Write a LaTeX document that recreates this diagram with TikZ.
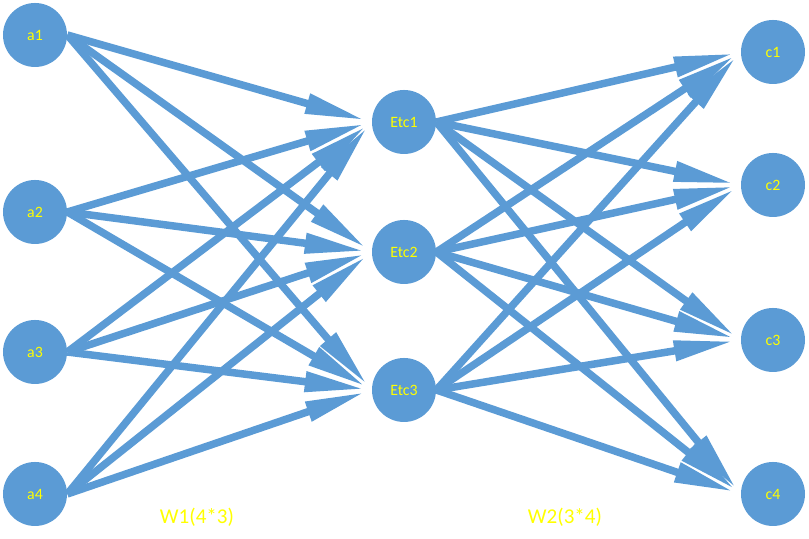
\documentclass[tikz,border=0pt]{standalone}
\usepackage{fontspec}
\setmainfont{Carlito}
\usepackage{tikz}
\usetikzlibrary{arrows.meta,positioning}
\usepackage{xcolor}
\definecolor{unitblue}{HTML}{5B9BD5}
\definecolor{labelyellow}{HTML}{FFFF00}

\begin{document}
\begin{tikzpicture}[
    unit/.style={circle, fill=unitblue, minimum size=1.28cm, inner sep=0pt, font=\fontsize{9}{10}\selectfont, text=labelyellow},
    weight/.style={font=\fontsize{12}{14}\selectfont, text=labelyellow},
    >={Triangle[length=1.2cm,width=0.38cm]},
    every edge/.style={draw=unitblue, ->, line width=0.15cm, shorten >=0.14cm}
]
    \useasboundingbox (0,0) rectangle (16.18,10.78);

    % input layer
    \node[unit] (a1) at (0.70,10.08) {a1};
    \node[unit] (a2) at (0.70,6.54) {a2};
    \node[unit] (a3) at (0.70,3.74) {a3};
    \node[unit] (a4) at (0.70,0.90) {a4};

    % hidden layer
    \node[unit] (etc1) at (8.08,8.34) {Etc1};
    \node[unit] (etc2) at (8.08,5.74) {Etc2};
    \node[unit] (etc3) at (8.08,2.98) {Etc3};

    % output layer
    \node[unit] (c1) at (15.46,9.74) {c1};
    \node[unit] (c2) at (15.46,7.08) {c2};
    \node[unit] (c3) at (15.46,3.98) {c3};
    \node[unit] (c4) at (15.46,0.90) {c4};

    \node[weight] (w1) at (3.94,0.44) {W1(4*3)};
    \node[weight] (w2) at (11.30,0.44) {W2(3*4)};

    % W1
    \draw (a1.east) edge (etc1.west);
    \draw (a1.east) edge (etc2.west);
    \draw (a1.east) edge (etc3.west);
    \draw (a2.east) edge (etc1.west);
    \draw (a2.east) edge (etc2.west);
    \draw (a2.east) edge (etc3.west);
    \draw (a3.east) edge (etc1.west);
    \draw (a3.east) edge (etc2.west);
    \draw (a3.east) edge (etc3.west);
    \draw (a4.east) edge (etc1.west);
    \draw (a4.east) edge (etc2.west);
    \draw (a4.east) edge (etc3.west);

    % W2
    \draw (etc1.east) edge (c1.west);
    \draw (etc1.east) edge (c2.west);
    \draw (etc1.east) edge (c3.west);
    \draw (etc1.east) edge (c4.west);
    \draw (etc2.east) edge (c1.west);
    \draw (etc2.east) edge (c2.west);
    \draw (etc2.east) edge (c3.west);
    \draw (etc2.east) edge (c4.west);
    \draw (etc3.east) edge (c1.west);
    \draw (etc3.east) edge (c2.west);
    \draw (etc3.east) edge (c3.west);
    \draw (etc3.east) edge (c4.west);
\end{tikzpicture}
\end{document}
